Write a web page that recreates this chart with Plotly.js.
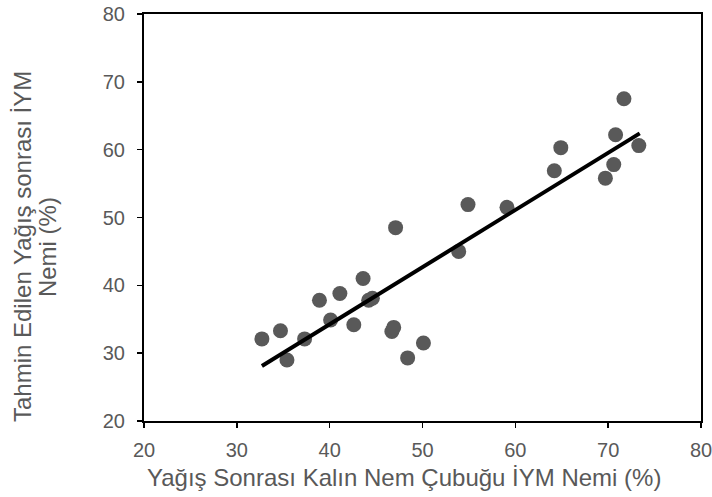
<!DOCTYPE html>
<html>
<head>
<meta charset="utf-8">
<script src="https://cdn.plot.ly/plotly-3.0.1.min.js"></script>
<style>html,body{margin:0;padding:0;background:#fff;}#chart{width:712px;height:497px;}</style>
</head>
<body>
<div id="chart"></div>
<script>
const measuredX = [32.7, 34.7, 35.4, 37.3, 38.9, 40.1, 41.1, 42.6, 43.6, 44.2, 44.6, 46.7, 46.9, 47.1, 48.4, 50.1, 53.9, 54.9, 59.1, 64.2, 64.9, 69.7, 70.6, 70.8, 71.7, 73.3];
const predictedY = [32.1, 33.3, 29.0, 32.1, 37.8, 34.9, 38.8, 34.2, 41.0, 37.8, 38.1, 33.2, 33.8, 48.5, 29.3, 31.5, 45.0, 51.9, 51.5, 56.9, 60.3, 55.8, 57.8, 62.2, 67.5, 60.6];
const fitX = [32.7, 73.4];
const fitY = [28.1, 62.4];
const xTitle = 'Yağış Sonrası Kalın Nem Çubuğu İYM Nemi (%)';
const yTitleLines = ['Tahmin Edilen Yağış sonrası İYM', 'Nemi (%)'];

const traces = [
  {x: measuredX, y: predictedY, mode: 'markers', type: 'scatter',
   marker: {size: 15, color: '#595959'}},
  {x: fitX, y: fitY, mode: 'lines', type: 'scatter',
   line: {color: '#000000', width: 4}}
];
const fam = 'Liberation Sans, Arial, sans-serif';
const gray = '#595959';
const axisCommon = {range: [20, 80], dtick: 10, showgrid: false, zeroline: false,
  showline: true, linecolor: '#000', linewidth: 2, mirror: true,
  ticks: 'outside', ticklen: 5, tickwidth: 1.5, tickcolor: '#000',
  ticklabeloverflow: 'allow',
  tickfont: {size: 20, family: fam, color: gray}};
const layout = {
  width: 712, height: 497,
  margin: {l: 144, r: 11, t: 14, b: 76},
  showlegend: false,
  paper_bgcolor: '#fff', plot_bgcolor: '#fff',
  font: {family: fam, color: gray},
  xaxis: Object.assign({}, axisCommon, {ticklabelstandoff: 5}),
  yaxis: Object.assign({}, axisCommon, {ticklabelstandoff: 8}),
  annotations: [
    {text: xTitle, xref: 'paper', yref: 'paper', x: 0.466, y: -0.14,
     xanchor: 'center', yanchor: 'middle', showarrow: false,
     font: {size: 24, family: fam, color: gray}},
    {text: yTitleLines[0], xref: 'paper', yref: 'paper', x: -0.219, y: 0.4275,
     xanchor: 'center', yanchor: 'middle', showarrow: false, textangle: -90,
     font: {size: 24, family: fam, color: gray}},
    {text: yTitleLines[1], xref: 'paper', yref: 'paper', x: -0.174, y: 0.4275,
     xanchor: 'center', yanchor: 'middle', showarrow: false, textangle: -90,
     font: {size: 24, family: fam, color: gray}}
  ]
};
Plotly.newPlot('chart', traces, layout, {displayModeBar: false, staticPlot: true});
</script>
</body>
</html>
